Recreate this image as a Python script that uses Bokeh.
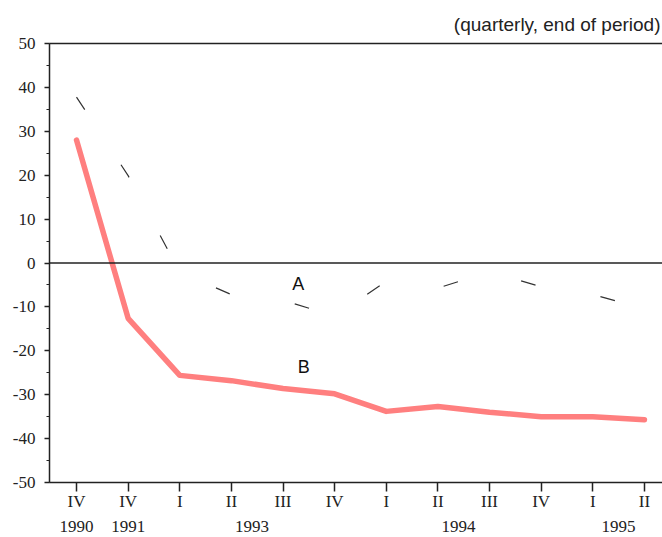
from bokeh.plotting import figure
from bokeh.models import Range1d, LinearAxis, FixedTicker, SingleIntervalTicker, Span
from bokeh.embed import file_html
from bokeh.resources import INLINE
from bokeh.core.properties import value

# ---- data ----
quarters = ["IV", "IV", "I", "II", "III", "IV", "I", "II", "III", "IV", "I", "II"]
year_labels = ["1990", "1991", "1993", "1994", "1995"]
year_positions = [0, 1, 3.4, 7.4, 10.5]
y_ticks = [-50, -40, -30, -20, -10, 0, 10, 20, 30, 40, 50]
series_a = [37.8, 19.9, -2.1, -7.2, -8.5, -12.1, -4.2, -5.7, -2.0, -5.4, -7.2, -10.4]
series_b = [28.0, -12.6, -25.6, -26.8, -28.6, -29.8, -33.8, -32.7, -34.0, -35.0, -35.0, -35.7]
series_names = ["A", "B"]
name_x = [4.295, 4.40]
name_y = [-4.8, -23.6]
subtitle = "(quarterly, end of period)"

x = list(range(len(quarters)))

AX = "#222222"
SERIF = "Liberation Serif"
SANS = "Liberation Sans"

p = figure(width=662, height=537,
           x_range=Range1d(-0.523, 11.35), y_range=Range1d(-50, 50),
           output_backend="svg", toolbar_location=None,
           x_axis_location=None, y_axis_location=None,
           min_border_left=49, min_border_right=0,
           min_border_top=43, min_border_bottom=55)
p.grid.visible = False
p.outline_line_color = None
p.background_fill_color = "white"
p.border_fill_color = "white"

# title (top right)
p.title.text = subtitle
p.title.align = "right"
p.title.vertical_align = "top"
p.title.text_font = SANS
p.title.text_font_size = "19px"
p.title.text_font_style = "normal"
p.title.text_color = AX
p.title.offset = 2
p.title.standoff = 14

# top line
top_axis = LinearAxis(ticker=FixedTicker(ticks=[]), axis_line_color=AX, axis_line_width=1.5,
                      major_tick_line_color=None, minor_tick_line_color=None,
                      major_label_text_font_size="0px", major_label_standoff=0)
p.add_layout(top_axis, "above")

# y axis
yaxis = LinearAxis(ticker=SingleIntervalTicker(interval=10, num_minor_ticks=2),
                   major_label_overrides={v: str(v) for v in y_ticks},
                   axis_line_color=AX, axis_line_width=1.5,
                   major_tick_line_color=AX, major_tick_line_width=1.5,
                   major_tick_out=5, major_tick_in=0,
                   minor_tick_line_color=AX, minor_tick_line_width=1.2,
                   minor_tick_out=3, minor_tick_in=0,
                   major_label_standoff=9,
                   major_label_text_font=SERIF, major_label_text_font_size="17px",
                   major_label_text_color=AX)
p.add_layout(yaxis, "left")

# x axis: quarters
xaxis = LinearAxis(ticker=FixedTicker(ticks=x),
                   major_label_overrides={i: q for i, q in zip(x, quarters)},
                   axis_line_color=AX, axis_line_width=1.5,
                   major_tick_line_color=AX, major_tick_line_width=1.5,
                   major_tick_out=9, major_tick_in=0,
                   minor_tick_line_color=None,
                   major_label_standoff=0,
                   major_label_text_font=SERIF, major_label_text_font_size="17px",
                   major_label_text_color=AX)
p.add_layout(xaxis, "below")

# x axis: years
yearaxis = LinearAxis(ticker=FixedTicker(ticks=year_positions),
                      major_label_overrides={pos: y for pos, y in zip(year_positions, year_labels)},
                      axis_line_color=None, major_tick_line_color=None,
                      minor_tick_line_color=None, major_tick_out=0, major_tick_in=0,
                      major_label_standoff=7,
                      major_label_text_font=SERIF, major_label_text_font_size="17px",
                      major_label_text_color=AX)
p.add_layout(yearaxis, "below")

# zero line
p.add_layout(Span(location=0, dimension="width", line_color=AX, line_width=1.5))

# series
p.line(x, series_b, line_color="#ff7f7f", line_width=5.5, line_cap="round", line_join="round")
p.line(x, series_a, line_color="#333333", line_width=1.2, line_dash="15 66")

p.text(name_x, name_y, text=series_names, text_font=value(SANS), text_font_size="18px",
       text_align="center", text_baseline="middle", text_color="#111111")

open("out.html", "w").write(file_html(p, INLINE))
